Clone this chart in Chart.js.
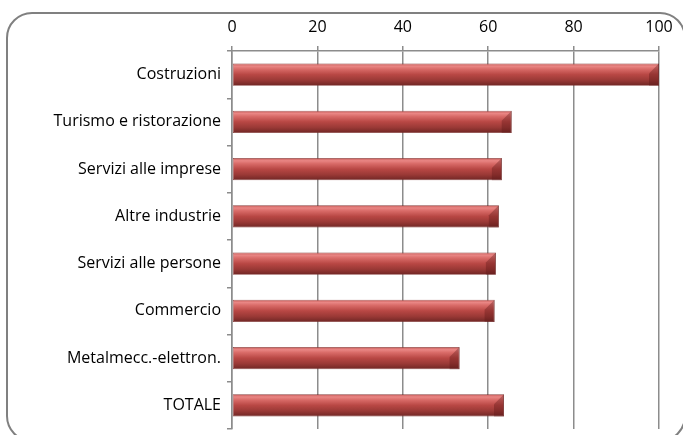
<!DOCTYPE html>
<html>
<head>
<meta charset="utf-8">
<script src="https://cdn.jsdelivr.net/npm/chart.js@4/dist/chart.umd.min.js"></script>
<style>
  html, body { margin: 0; padding: 0; background: #fff; overflow: hidden; }
  #wrap { position: relative; width: 683px; height: 435px; overflow: hidden; }
  #frame {
    position: absolute; left: 6px; top: 12px; width: 680px; height: 430px;
    border: 2px solid #808080; border-radius: 26px; box-sizing: border-box;
    pointer-events: none;
  }
  canvas { position: absolute; left: 0; top: 0; }
</style>
</head>
<body>
<div id="wrap">
  <div id="frame"></div>
  <canvas id="chart" width="683" height="435"></canvas>
</div>
<script>
/* Sectors, top to bottom */
const categories = [
  "Costruzioni",
  "Turismo e ristorazione",
  "Servizi alle imprese",
  "Altre industrie",
  "Servizi alle persone",
  "Commercio",
  "Metalmecc.-elettron.",
  "TOTALE"
];

/* Index values per sector (0-100) */
const values = [100, 65.5, 63.2, 62.5, 61.8, 61.5, 53.3, 63.7];

/* X axis range and step */
const xMin = 0;
const xMax = 100;
const xStep = 20;

const FONT = "'Open Sans', 'Liberation Sans', sans-serif";

/* Vertical shading so each bar looks like a rounded tube */
function barGradient(context) {
  const chart = context.chart;
  const yScale = chart.scales.y;
  if (!yScale || context.dataIndex === undefined) return "#c0504d";
  const cy = yScale.getPixelForValue(context.dataIndex);
  const band = Math.abs(yScale.getPixelForValue(1) - yScale.getPixelForValue(0));
  const h = band * 0.47 / 2;
  if (!isFinite(cy) || !isFinite(h) || h <= 0) return "#c0504d";
  const g = chart.ctx.createLinearGradient(0, cy - h, 0, cy + h);
  g.addColorStop(0.00, "#c65a57");
  g.addColorStop(0.12, "#e98684");
  g.addColorStop(0.25, "#d96b68");
  g.addColorStop(0.50, "#b84744");
  g.addColorStop(0.75, "#9a3936");
  g.addColorStop(1.00, "#6f2624");
  return g;
}

/* Darker bevel at the right end of every bar */
const barEnds = {
  id: "barEnds",
  afterDatasetsDraw(chart) {
    const ctx = chart.ctx;
    chart.getDatasetMeta(0).data.forEach(bar => {
      const { x, y, height } = bar.getProps(["x", "y", "height"], true);
      const top = y - height / 2, bot = y + height / 2;
      const w = height * 0.45;
      ctx.save();
      ctx.beginPath();
      ctx.moveTo(x, top);
      ctx.lineTo(x - w, top + w);
      ctx.lineTo(x - w, bot);
      ctx.lineTo(x, bot);
      ctx.closePath();
      ctx.fillStyle = "rgba(90, 20, 20, 0.35)";
      ctx.fill();
      ctx.restore();
    });
  }
};

new Chart(document.getElementById("chart"), {
  type: "bar",
  data: {
    labels: categories,
    datasets: [{
      data: values,
      backgroundColor: barGradient,
      borderColor: "rgba(120, 40, 38, 0.9)",
      borderWidth: 0.8,
      borderSkipped: false,
      barPercentage: 0.47,
      categoryPercentage: 1.0
    }]
  },
  plugins: [barEnds],
  options: {
    indexAxis: "y",
    responsive: false,
    animation: false,
    layout: { padding: { left: 10, right: 24, top: 10, bottom: 6 } },
    plugins: {
      legend: { display: false },
      tooltip: { enabled: false }
    },
    scales: {
      x: {
        position: "top",
        min: xMin,
        max: xMax,
        ticks: {
          stepSize: xStep,
          color: "#000",
          padding: 9,
          font: { family: FONT, size: 16 }
        },
        grid: {
          color: "#8c8c8c",
          lineWidth: 1.5,
          tickLength: 5,
          drawOnChartArea: true
        },
        border: { display: true, color: "#8c8c8c", width: 1.5 },
        afterFit(scale) { scale.height = 41; }
      },
      y: {
        ticks: {
          color: "#000",
          padding: 6,
          font: { family: FONT, size: 16 }
        },
        grid: {
          offset: true,
          color: "#8c8c8c",
          lineWidth: 1.5,
          tickLength: 5,
          drawOnChartArea: false
        },
        border: { display: true, color: "#8c8c8c", width: 1.5 },
        afterFit(scale) {
          scale.width = 222;
          scale.paddingTop = 0;
          scale.paddingBottom = 0;
        }
      }
    }
  }
});
</script>
</body>
</html>
